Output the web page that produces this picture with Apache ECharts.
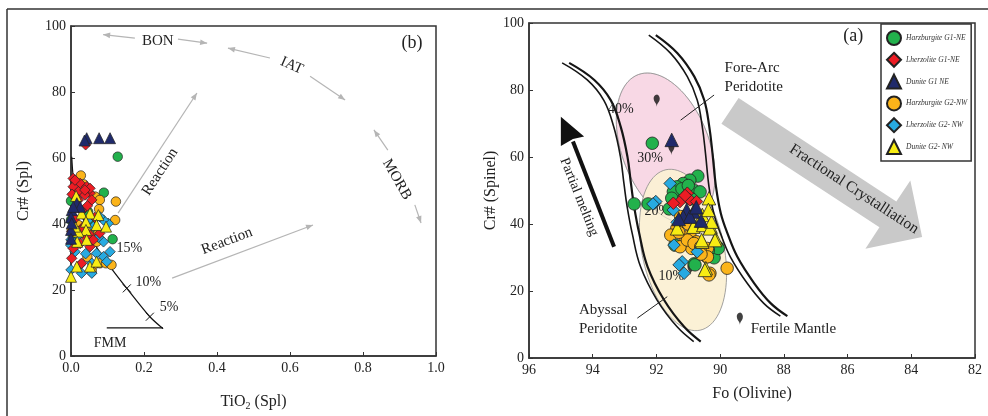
<!DOCTYPE html>
<html>
<head>
<meta charset="utf-8">
<script src="https://cdn.jsdelivr.net/npm/echarts@6/dist/echarts.min.js"></script>
<style>
html, body { margin: 0; padding: 0; background: #fff; }
#chart { width: 988px; height: 416px; }
</style>
</head>
<body>
<div id="chart"></div>
<script>
var SERIF = '"Liberation Serif", "DejaVu Serif", serif';

// names (legend order)
var names = ['Harzburgite G1-NE', 'Lherzolite G1-NE', 'Dunite G1 NE', 'Harzburgite G2-NW', 'Lherzolite G2- NW', 'Dunite G2- NW'];
var colors = ['#22b14c', '#ed1c24', '#1f2a6b', '#fbb41a', '#27aae1', '#f7ec13'];
var symbols = ['circle', 'diamond', 'triangle', 'circle', 'diamond', 'triangle'];

// panel (b): TiO2 (Spl) vs Cr# (Spl)
var hzG1_b = [[0.128,60.4],[0.09,49.5],[0.114,35.4],[0.0,41.2],[0.047,43.7],[0.005,36],[0.06,41],[0.0,47]];
var lzG1_b = [[0.006,53.8],[0.025,52.3],[0.043,51.3],[0.006,51.3],[0.020,49.8],[0.052,49.3],[0.003,49.0],[0.038,48.8],
  [0.016,47.8],[0.057,47.3],[0.011,53.3],[0.052,50.8],[0.038,50.3],[0.020,47.3],[0.002,37.7],[0.016,34.1],[0.043,35.7],
  [0.052,33.1],[0.079,37.2],[0.002,29.6],[0.029,28.1],[0.034,39.2],[0.011,41.7],[0.006,32.6],[0.029,38.2],[0.052,36.7],
  [0.025,34.1],[0.061,35.2],[0.04,64],[0.03,44],[0.045,45.5],[0.065,42]];
var dnG1_b = [[0.043,66],[0.077,66],[0.107,66],[0.037,65.3],[0.002,44.2],[0.016,46.3],[0.0,42],[0.0,38.2],[0.0,35.5],
  [0.025,45.2],[0.006,45.2],[0.002,40.2]];
var hzG2_b = [[0.027,54.7],[0.066,48.3],[0.079,47.3],[0.123,46.8],[0.121,41.2],[0.077,44.5],[0.079,28.1],[0.096,28.1],
  [0.111,27.6],[0.059,27.1],[0.057,25.6],[0.029,39.2],[0.057,38.2],[0.002,38.2],[0.075,37.2],[0.020,39.7],[0.070,34.6],
  [0.035,52],[0.045,30]];
var lzG2_b = [[0.089,34.6],[0.070,31.1],[0.089,30.1],[0.107,31.6],[0.098,28.6],[0.011,31.6],[0.057,28.1],[0.025,27.6],
  [0.000,26.1],[0.029,25.1],[0.057,25.1],[0.0,33.5],[0.102,40.2],[0.089,41.2],[0.079,42.2],[0.061,39.2],[0.0,35.2],
  [0.04,31],[0.075,36],[0.05,41.5],[0.02,36.5]];
var dnG2_b = [[0.014,48.5],[0.052,43.2],[0.029,43.2],[0.075,42.7],[0.041,40.7],[0.070,39.7],[0.096,39.2],[0.041,38.2],
  [0.020,37.7],[0.017,34.6],[0.043,35.2],[0.052,27.1],[0.070,28.6],[0.016,27.1],[0.000,24.0],[0.011,39.2]];

// panel (a): Fo (Olivine) vs Cr# (Spinel)
var hzG1_a = [[92.13,64.1],[92.70,46.0],[92.26,46.0],[90.70,54.3],[90.95,53.1],[91.16,52.1],[91.36,51.1],[91.26,49.2],
  [90.84,50.1],[90.63,49.6],[91.47,49.6],[91.05,48.1],[91.52,47.7],[90.82,28.1],[90.09,33.2],[90.19,29.9],[91.42,33.7],
  [90.06,32.7],[90.79,27.8],[90.37,32.2],[91.2,50.5],[91.0,51.5],[90.9,47.5],[91.6,44.5]];
var lzG1_a = [[91.03,49.2],[91.26,46.7],[91.47,46.2],[90.95,47.2],[90.74,46.7],[91.1,48.5]];
var dnG1_a = [[91.52,65.1],[91.05,44.2],[90.84,43.7],[91.16,42.2],[90.95,42.2],[90.75,45],[91.3,41.5],[90.6,41]];
var hzG2_a = [[91.36,38.7],[91.10,35.7],[90.95,36.7],[90.74,34.7],[90.53,32.7],[90.42,30.2],[90.32,25.3],[90.89,32.7],
  [91.26,33.2],[91.55,36.7],[89.78,26.8],[90.35,24.8],[90.40,32.7],[90.40,30.2],[91.24,42.2],[91.03,35.2],[90.82,34.2],
  [90.61,33.2],[91.3,37.5],[90.6,31],[91.0,40]];
var lzG2_a = [[91.57,52.1],[92.05,46.2],[91.47,44.2],[92.02,46.7],[92.11,46.0],[91.19,28.7],[91.13,25.3],[91.29,27.8],
  [91.45,33.7],[90.72,31.7],[91.35,40.5]];
var dnG2_a = [[90.35,47.7],[90.56,42.7],[90.30,39.2],[90.82,39.7],[91.35,38.7],[90.56,34.7],[90.14,35.7],[90.45,26.8],
  [90.84,39.2],[90.53,39.7],[90.32,38.7],[90.16,35.2],[90.58,35.2],[90.27,40.7],[90.37,44.2],[90.48,26.3]];

// melting pins (Fo, Cr#)
var pinFo = [91.99, 91.53, 90.93, 89.38];
var pinCr = [75.0, 60.6, 24.8, 9.9];

// FMM melting curve (panel b)
var fmmTi = [0.251, 0.216, 0.153, 0.111, 0.07, 0.035, 0.015, 0.006, 0.002];
var fmmCr = [8.4, 11.9, 20.5, 26.5, 33, 41, 48, 54.3, 60.4];

// field boundaries (panel a)
var bandLeftFo = [94.85, 94.06, 93.54, 93.23, 93.02, 92.91, 92.81, 92.65, 92.39, 91.87, 91.24, 90.72];
var bandLeftCr = [88.1, 83.0, 76.9, 69.0, 60.1, 52.1, 45.2, 37.2, 27.3, 17.3, 9.3, 4.9];
var bandRightFo = [92.13, 91.45, 90.92, 90.61, 90.45, 90.35, 90.24, 90.09, 89.88, 89.57, 89.04, 88.52, 88.00];
var bandRightCr = [96.4, 91.0, 84.0, 77.0, 69.0, 61.1, 51.1, 43.2, 37.2, 30.2, 22.3, 16.3, 12.5];

function zip(a, b) { return a.map(function (v, i) { return [v, b[i]]; }); }

function arrowHead(a, b, len, hw) {
  var dx = b[0] - a[0], dy = b[1] - a[1];
  var L = Math.sqrt(dx * dx + dy * dy), ux = dx / L, uy = dy / L;
  var bx = b[0] - ux * len, by = b[1] - uy * len;
  return [[b[0], b[1]], [bx - uy * hw, by + ux * hw], [bx + uy * hw, by - ux * hw]];
}

function txt(api, p, s, size, rot, align, italic) {
  var c = api.coord(p);
  return {
    type: 'text', x: c[0], y: c[1], rotation: rot || 0,
    style: {
      text: s, fill: '#222', align: align || 'center', verticalAlign: 'middle',
      font: (italic ? 'italic ' : '') + size + 'px ' + SERIF
    }
  };
}

function ellipsePts(api, top, bot, ratio) {
  var p0 = api.coord(top), p1 = api.coord(bot);
  var cx = (p0[0] + p1[0]) / 2, cy = (p0[1] + p1[1]) / 2;
  var dx = (p1[0] - p0[0]) / 2, dy = (p1[1] - p0[1]) / 2;
  var a = Math.sqrt(dx * dx + dy * dy), ux = dx / a, uy = dy / a, b = a * ratio;
  var pts = [];
  for (var i = 0; i < 90; i++) {
    var t = i / 90 * Math.PI * 2;
    pts.push([cx + a * Math.cos(t) * ux - b * Math.sin(t) * uy, cy + a * Math.cos(t) * uy + b * Math.sin(t) * ux]);
  }
  return pts;
}

// ---- annotations panel (b)
var grayArrowsB = [
  [[0.175, 96.3], [0.088, 97.4]],
  [[0.293, 96.0], [0.373, 94.8]],
  [[0.545, 90.3], [0.430, 93.3]],
  [[0.655, 84.8], [0.751, 77.6]],
  [[0.868, 62.4], [0.830, 68.5]],
  [[0.942, 45.8], [0.959, 40.3]],
  [[0.129, 43.3], [0.345, 79.7]],
  [[0.277, 23.6], [0.663, 39.7]]
];

function renderB(params, api) {
  var ch = [];
  grayArrowsB.forEach(function (ar) {
    var a = api.coord(ar[0]), b = api.coord(ar[1]);
    ch.push({ type: 'line', shape: { x1: a[0], y1: a[1], x2: b[0], y2: b[1] }, style: { stroke: '#b5b5b5', lineWidth: 1.2 } });
    ch.push({ type: 'polygon', shape: { points: arrowHead(a, b, 7, 2.8) }, style: { fill: '#b5b5b5' } });
  });
  // FMM horizontal and melting curve
  var h0 = api.coord([0.098, 8.5]), h1 = api.coord([0.252, 8.5]);
  ch.push({ type: 'line', shape: { x1: h0[0], y1: h0[1], x2: h1[0], y2: h1[1] }, style: { stroke: '#111', lineWidth: 1.2 } });
  var cp = zip(fmmTi, fmmCr).map(function (p) { return api.coord(p); });
  cp.unshift(h1);
  ch.push({ type: 'polyline', shape: { points: cp, smooth: 0.3 }, style: { stroke: '#111', lineWidth: 1.2, fill: null } });
  [[0.216, 11.9], [0.153, 20.5]].forEach(function (p) {
    var c = api.coord(p);
    ch.push({ type: 'line', shape: { x1: c[0] - 4, y1: c[1] - 4, x2: c[0] + 4, y2: c[1] + 4 }, style: { stroke: '#111', lineWidth: 1 } });
    ch.push({ type: 'line', shape: { x1: c[0] - 4, y1: c[1] + 4, x2: c[0] + 4, y2: c[1] - 4 }, style: { stroke: '#111', lineWidth: 1 } });
  });
  ch.push(txt(api, [0.238, 95.4], 'BON', 15));
  ch.push(txt(api, [0.605, 88.0], 'IAT', 15, -0.42));
  ch.push(txt(api, [0.893, 53.5], 'MORB', 15, -1.05));
  ch.push(txt(api, [0.244, 55.8], 'Reaction', 15, 0.99));
  ch.push(txt(api, [0.427, 34.8], 'Reaction', 15, 0.36));
  ch.push(txt(api, [0.934, 94.8], '(b)', 18));
  ch.push(txt(api, [0.16, 32.6], '15%', 14));
  ch.push(txt(api, [0.212, 22.2], '10%', 14));
  ch.push(txt(api, [0.269, 14.9], '5%', 14));
  ch.push(txt(api, [0.107, 3.8], 'FMM', 14));
  return { type: 'group', children: ch };
}

// ---- annotations panel (a)
var pinkTop = [92.57, 84.6], pinkBot = [90.85, 40.8];
var yellowTop = [91.70, 56.2], yellowBot = [90.63, 8.3];
var fcArrow = [[89.96, 69.9], [89.42, 77.6], [84.47, 46.7], [84.03, 53.0], [83.66, 36.1], [85.44, 32.6], [85.00, 39.0]];

function renderA(params, api) {
  var ch = [];
  var pink = ellipsePts(api, pinkTop, pinkBot, 0.56);
  var yel = ellipsePts(api, yellowTop, yellowBot, 0.5);
  ch.push({ type: 'polygon', shape: { points: pink }, style: { fill: '#f8d8e5', stroke: '#8a8a8a', lineWidth: 0.8 } });
  ch.push({ type: 'polygon', shape: { points: yel }, style: { fill: 'rgba(251,240,212,0.95)', stroke: '#8a8a8a', lineWidth: 0.8 } });
  ch.push({ type: 'polygon', shape: { points: pink }, style: { fill: null, stroke: 'rgba(150,150,150,0.35)', lineWidth: 0.8 } });
  // boundaries (double lines)
  [[bandLeftFo, bandLeftCr], [bandRightFo, bandRightCr]].forEach(function (bd) {
    [-0.11, 0.11].forEach(function (off, k) {
      var pts = bd[0].map(function (f, i) { return api.coord([f + off, bd[1][i]]); });
      ch.push({ type: 'polyline', shape: { points: pts, smooth: 0.4 }, style: { stroke: '#151515', lineWidth: k === 0 ? 2.2 : 1.6, fill: null } });
    });
  });
  // fractional crystallisation arrow
  ch.push({ type: 'polygon', shape: { points: fcArrow.map(function (p) { return api.coord(p); }) }, style: { fill: '#c9c9c9' } });
  // partial melting arrow
  var t0 = api.coord([93.33, 33.2]), t1 = api.coord([94.62, 64.6]);
  ch.push({ type: 'line', shape: { x1: t0[0], y1: t0[1], x2: t1[0], y2: t1[1] }, style: { stroke: '#111', lineWidth: 4 } });
  ch.push({ type: 'polygon', shape: { points: [api.coord([95.0, 72.0]), api.coord([95.0, 63.3]), api.coord([94.62, 65.4]), api.coord([94.27, 66.1])] }, style: { fill: '#111' } });
  // leader lines
  var l0 = api.coord([90.19, 78.5]), l1 = api.coord([91.24, 71.0]);
  ch.push({ type: 'line', shape: { x1: l0[0], y1: l0[1], x2: l1[0], y2: l1[1] }, style: { stroke: '#222', lineWidth: 1 } });
  var m0 = api.coord([92.60, 11.9]), m1 = api.coord([91.66, 18.3]);
  ch.push({ type: 'line', shape: { x1: m0[0], y1: m0[1], x2: m1[0], y2: m1[1] }, style: { stroke: '#222', lineWidth: 1 } });
  ch.push(txt(api, [89.86, 86.6], 'Fore-Arc', 15, 0, 'left'));
  ch.push(txt(api, [89.86, 80.9], 'Peridotite', 15, 0, 'left'));
  ch.push(txt(api, [94.43, 14.3], 'Abyssal', 15, 0, 'left'));
  ch.push(txt(api, [94.43, 8.7], 'Peridotite', 15, 0, 'left'));
  ch.push(txt(api, [89.04, 8.7], 'Fertile Mantle', 15, 0, 'left'));
  ch.push(txt(api, [93.12, 74.3], '40%', 14));
  ch.push(txt(api, [92.20, 59.7], '30%', 14));
  ch.push(txt(api, [91.97, 43.7], '20%', 14));
  ch.push(txt(api, [91.53, 24.5], '10%', 14));
  ch.push(txt(api, [94.43, 48.1], 'Partial melting', 14, -1.19));
  ch.push(txt(api, [85.80, 50.4], 'Fractional Crystalliation', 15.5, -0.58));
  ch.push(txt(api, [85.82, 95.9], '(a)', 18));
  return { type: 'group', children: ch };
}

var dataB = [hzG1_b, lzG1_b, dnG1_b, hzG2_b, lzG2_b, dnG2_b];
var dataA = [hzG1_a, lzG1_a, dnG1_a, hzG2_a, lzG2_a, dnG2_a];
var sizeB = [9.5, 10.5, 11, 9.5, 10.5, 11];
var sizeA = [12.5, 12.5, 13.5, 12.5, 12.5, 13.5];
var drawOrder = [0, 3, 4, 1, 5, 2];

var series = [
  { type: 'custom', xAxisIndex: 0, yAxisIndex: 0, z: 1, silent: true, renderItem: renderB, data: [[0.5, 50]] },
  { type: 'custom', xAxisIndex: 1, yAxisIndex: 1, z: 1, silent: true, renderItem: renderA, data: [[89, 50]] }
];
drawOrder.forEach(function (i) {
  series.push({
    name: names[i], type: 'scatter', xAxisIndex: 0, yAxisIndex: 0, symbol: symbols[i], symbolSize: sizeB[i],
    data: dataB[i], itemStyle: { color: colors[i], borderColor: '#222', borderWidth: 0.7, opacity: 1 }
  });
});
drawOrder.forEach(function (i) {
  series.push({
    name: names[i], type: 'scatter', xAxisIndex: 1, yAxisIndex: 1, symbol: symbols[i], symbolSize: sizeA[i],
    data: dataA[i], itemStyle: { color: colors[i], borderColor: '#222', borderWidth: 0.8, opacity: 1 }
  });
});
series.push({
  type: 'scatter', xAxisIndex: 1, yAxisIndex: 1, symbol: 'pin', symbolSize: [10, 14], z: 1,
  data: zip(pinFo, pinCr), itemStyle: { color: '#111' }
});

function baseAxis(extra) {
  var o = {
    axisLine: { onZero: false, lineStyle: { color: '#333', width: 1.5 } },
    axisTick: { inside: true, length: 4, lineStyle: { color: '#333' } },
    splitLine: { show: false },
    axisLabel: { fontFamily: SERIF, fontSize: 14, color: '#222', margin: 5 },
    nameLocation: 'middle',
    nameTextStyle: { fontFamily: SERIF, fontSize: 16, color: '#222' }
  };
  for (var k in extra) o[k] = extra[k];
  return o;
}

var option = {
  animation: false,
  backgroundColor: '#fff',
  grid: [
    { left: 71, top: 26, width: 365, height: 330, show: true, borderColor: '#333', borderWidth: 1.5, backgroundColor: 'transparent' },
    { left: 529, top: 23, width: 446, height: 335, show: true, borderColor: '#333', borderWidth: 1.5, backgroundColor: 'transparent' }
  ],
  xAxis: [
    baseAxis({
      gridIndex: 0, type: 'value', min: 0, max: 1, interval: 0.2, name: '{a|TiO}{s|2}{a| (Spl)}', nameGap: 36,
      axisLabel: { fontFamily: SERIF, fontSize: 14, color: '#222', margin: 5, formatter: function (v) { return v.toFixed(1); } },
      nameTextStyle: { rich: { a: { fontFamily: SERIF, fontSize: 16, color: '#222' }, s: { fontFamily: SERIF, fontSize: 10, color: '#222', padding: [9, 0, 0, 0] } } }
    }),
    baseAxis({ gridIndex: 1, type: 'value', min: 82, max: 96, interval: 2, inverse: true, name: 'Fo (Olivine)', nameGap: 28 })
  ],
  yAxis: [
    baseAxis({ gridIndex: 0, type: 'value', min: 0, max: 100, interval: 20, name: 'Cr# (Spl)', nameGap: 39 }),
    baseAxis({ gridIndex: 1, type: 'value', min: 0, max: 100, interval: 20, name: 'Cr# (Spinel)', nameGap: 30 })
  ],
  legend: {
    data: names, orient: 'vertical', left: 881, top: 24, itemWidth: 14, itemHeight: 14, itemGap: 5.8,
    padding: [6, 4, 6, 5], backgroundColor: '#fff', borderColor: '#333', borderWidth: 1.5,
    textStyle: { fontFamily: SERIF, fontStyle: 'italic', fontSize: 7.5, color: '#333' }
  },
  graphic: [
    { type: 'line', shape: { x1: 7, y1: 9, x2: 988, y2: 9 }, style: { stroke: '#333', lineWidth: 1.5 } },
    { type: 'line', shape: { x1: 7, y1: 9, x2: 7, y2: 416 }, style: { stroke: '#333', lineWidth: 1.5 } }
  ],
  series: series
};

var chart = echarts.init(document.getElementById('chart'));
chart.setOption(option);
</script>
</body>
</html>
